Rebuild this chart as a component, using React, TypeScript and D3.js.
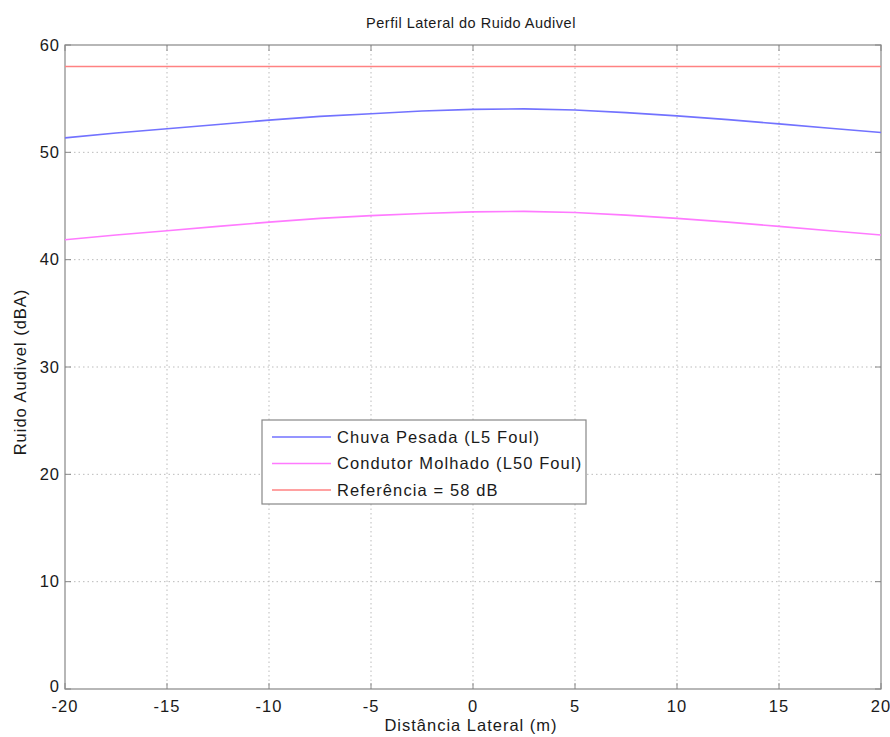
import React from 'react';
import { scaleLinear, line } from 'd3';

const distances = [-20, -17.5, -15, -12.5, -10, -7.5, -5, -2.5, 0, 2.5, 5, 7.5, 10, 12.5, 15, 17.5, 20];
const chuvaPesada = [51.35, 51.8, 52.2, 52.6, 53.0, 53.35, 53.6, 53.85, 54.0, 54.05, 53.95, 53.7, 53.4, 53.05, 52.65, 52.25, 51.85];
const condutorMolhado = [41.85, 42.3, 42.7, 43.1, 43.5, 43.85, 44.1, 44.3, 44.45, 44.5, 44.4, 44.15, 43.85, 43.5, 43.1, 42.7, 42.3];
const referencia = 58;
const xTicks = [-20, -15, -10, -5, 0, 5, 10, 15, 20];
const yTicks = [0, 10, 20, 30, 40, 50, 60];

const seriesNames = ['Chuva Pesada (L5 Foul)', 'Condutor Molhado (L50 Foul)', 'Referência = 58 dB'];
const seriesColors = ['#7272ff', '#ff7aff', '#ff8282'];

const dims = {
  width: 890,
  height: 737,
  margin: { top: 45, right: 9, bottom: 48, left: 65 },
};
const boundedWidth = dims.width - dims.margin.left - dims.margin.right;
const boundedHeight = dims.height - dims.margin.top - dims.margin.bottom;

export default function App() {
  const xScale = scaleLinear().domain([-20, 20]).range([0, boundedWidth]);
  const yScale = scaleLinear().domain([0, 60]).range([boundedHeight, 0]);

  const pathOf = (vals: number[]) =>
    line<number>()
      .x((_, i) => xScale(distances[i]))
      .y(d => yScale(d))(vals) || '';

  const refPath =
    line<number>()
      .x(d => xScale(d))
      .y(() => yScale(referencia))([-20, 20]) || '';

  const paths = [pathOf(chuvaPesada), pathOf(condutorMolhado), refPath];
  const font = 'Liberation Sans, Arial, sans-serif';
  const txt = { fontSize: 16.5, letterSpacing: 1, fill: '#1a1a1a' };

  return (
    <svg
      width={dims.width}
      height={dims.height}
      style={{ position: 'absolute', left: 0, top: 0 }}
      fontFamily={font}>
      <rect width={dims.width} height={dims.height} fill='white' />
      <text x={471} y={28} textAnchor='middle' fontSize={14.5} letterSpacing={0.5} fill='#1a1a1a'>
        Perfil Lateral do Ruido Audivel
      </text>
      <g transform={`translate(${dims.margin.left}, ${dims.margin.top})`}>
        {xTicks.map(t => (
          <g key={'x' + t} transform={`translate(${xScale(t)}, 0)`}>
            {t !== -20 && t !== 20 && (
              <line y2={boundedHeight} stroke='#bbb' strokeDasharray='1.5,3' />
            )}
            <line y2={6} stroke='#888' />
            <line y1={boundedHeight - 6} y2={boundedHeight} stroke='#888' />
            <text y={boundedHeight + 23} textAnchor='middle' {...txt}>
              {t}
            </text>
          </g>
        ))}
        {yTicks.map(t => (
          <g key={'y' + t} transform={`translate(0, ${yScale(t)})`}>
            {t !== 0 && t !== 60 && (
              <line x2={boundedWidth} stroke='#bbb' strokeDasharray='1.5,3' />
            )}
            <line x2={6} stroke='#888' />
            <line x1={boundedWidth - 6} x2={boundedWidth} stroke='#888' />
            <text x={-5} y={t === 0 ? -3 : 0} dy='.35em' textAnchor='end' {...txt}>
              {t}
            </text>
          </g>
        ))}
        <rect
          width={boundedWidth}
          height={boundedHeight}
          fill='none'
          stroke='#888'
          strokeWidth={1.2}
        />
        {paths.map((p, i) => (
          <path key={i} d={p} fill='none' stroke={seriesColors[i]} strokeWidth={1.6} />
        ))}
        <g transform='translate(197, 375)'>
          <rect width={324} height={84} fill='white' stroke='#888' strokeWidth={1.2} />
          {seriesNames.map((name, i) => (
            <g key={name} transform={`translate(0, ${17 + i * 26.5})`}>
              <line x1={10} x2={69} stroke={seriesColors[i]} strokeWidth={1.6} />
              <text x={75} dy='.35em' {...txt} letterSpacing={1.1}>
                {name}
              </text>
            </g>
          ))}
        </g>
      </g>
      <text x={471} y={731} textAnchor='middle' {...txt}>
        Distância Lateral (m)
      </text>
      <text transform='translate(26, 372) rotate(-90)' textAnchor='middle' {...txt}>
        Ruido Audivel (dBA)
      </text>
    </svg>
  );
}
